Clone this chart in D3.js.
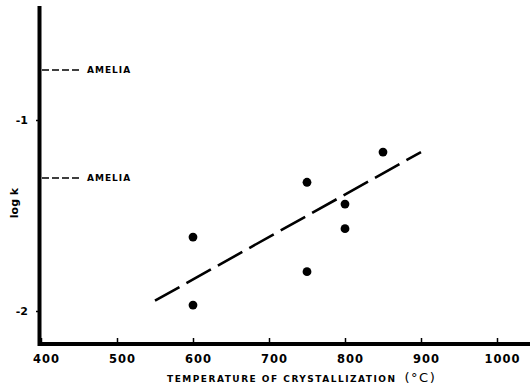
<!DOCTYPE html>
<html><head><meta charset="utf-8">
<script src="https://cdn.jsdelivr.net/npm/d3@7"></script>
<style>
body{margin:0;background:#fff;}
svg{display:block;}
text{font-family:"DejaVu Sans",sans-serif;font-weight:bold;fill:#000;}
</style></head>
<body><svg id="c" width="532" height="386"></svg>
<script>
// data
const xTicks = [400, 500, 600, 700, 800, 900, 1000];
const yTicks = [-1, -2];
const yTickLabels = ["-1", "-2"];
const temps = [600, 600, 750, 750, 800, 800, 850];
const logk = [-1.613, -1.969, -1.326, -1.794, -1.44, -1.569, -1.168];
const fitTemps = [550, 900];
const fitLogk = [-1.946, -1.168];
const refLabels = ["AMELIA", "AMELIA"];
const refLogk = [-0.738, -1.304];
const xTitle = "TEMPERATURE OF CRYSTALLIZATION";
const xUnit = "(°C)";
const yTitle = "log k";

const svg = d3.select("#c");
const x = d3.scaleLinear().domain([400, 1000]).range([41, 497]);
const y = d3.scaleLinear().domain([-1, -2]).range([120, 311]);
const xMax = x.invert(530), yTop = y.invert(6), yBot = y.invert(344);

// axes lines (thick)
svg.append("line").attr("x1", x(400)).attr("x2", x(xMax)).attr("y1", y(yBot)).attr("y2", y(yBot))
  .attr("stroke", "#000").attr("stroke-width", 4);
svg.append("line").attr("x1", x(400) - 1.5).attr("x2", x(400) - 1.5).attr("y1", y(yTop)).attr("y2", y(yBot) + 2)
  .attr("stroke", "#000").attr("stroke-width", 4);

// x axis ticks
const xa = d3.axisBottom(x).tickValues(xTicks).tickSize(-6).tickSizeOuter(0).tickPadding(11).tickFormat(d3.format("d"));
const gx = svg.append("g").attr("transform", `translate(0,${y(yBot)})`).call(xa);
gx.select(".domain").remove();
gx.selectAll(".tick line").attr("stroke", "#000").attr("stroke-width", 1.5);
gx.selectAll(".tick text").attr("font-size", 11.5).attr("dx", 5).attr("letter-spacing", 1).attr("fill", "#000");

// y axis ticks
const ya = d3.axisLeft(y).tickValues(yTicks).tickSize(5).tickSizeOuter(0).tickPadding(8)
  .tickFormat((d, i) => yTickLabels[i]);
const gy = svg.append("g").attr("transform", `translate(${x(400)},0)`).call(ya);
gy.select(".domain").remove();
gy.selectAll(".tick line").attr("stroke", "#000").attr("stroke-width", 1.5);
gy.selectAll(".tick text").attr("font-size", 11).attr("fill", "#000");

// reference lines
refLogk.forEach((v, i) => {
  svg.append("line").attr("x1", x(400) + 1).attr("x2", x(400) + 41).attr("y1", y(v)).attr("y2", y(v))
    .attr("stroke", "#000").attr("stroke-width", 1.6).attr("stroke-dasharray", "7,3");
  svg.append("text").attr("x", x(400) + 46).attr("y", y(v)).attr("dy", "0.35em")
    .attr("font-size", 9).attr("letter-spacing", 1).text(refLabels[i]);
});

// fit line
svg.append("line").attr("x1", x(fitTemps[0])).attr("y1", y(fitLogk[0]))
  .attr("x2", x(fitTemps[1])).attr("y2", y(fitLogk[1]))
  .attr("stroke", "#000").attr("stroke-width", 2.6).attr("stroke-dasharray", "28,8");

// points
svg.selectAll("circle.pt").data(temps).enter().append("circle").attr("class", "pt")
  .attr("cx", (d) => x(d)).attr("cy", (d, i) => y(logk[i])).attr("r", 4.4).attr("fill", "#000");

// titles
const t = svg.append("text").attr("x", 167).attr("y", 382).attr("font-size", 9).attr("letter-spacing", 1.5);
t.append("tspan").text(xTitle);
t.append("tspan").attr("dx", 8).attr("font-size", 13).attr("font-weight", "normal").text(xUnit);

svg.append("text").attr("transform", `translate(18,203) rotate(-90)`).attr("text-anchor", "middle")
  .attr("font-size", 11).text(yTitle);
</script></body></html>
